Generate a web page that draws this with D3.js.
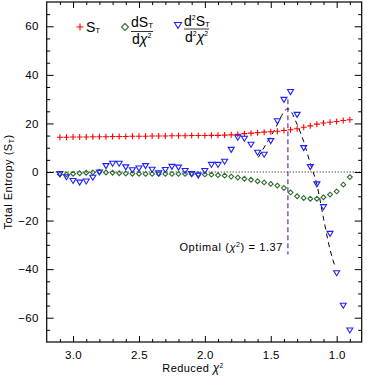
<!DOCTYPE html>
<html>
<head>
<meta charset="utf-8">
<script src="https://cdn.jsdelivr.net/npm/d3@7"></script>
<style>
body { margin: 0; background: #fff; }
text { font-family: "Liberation Sans", Arial, sans-serif; fill: #000; }
</style>
</head>
<body>
<div id="chart"></div>
<script>
// reduced chi^2 grid (x)
var chi2 = [3.10, 3.05, 3.00, 2.95, 2.90, 2.85, 2.80, 2.75, 2.70, 2.65, 2.60, 2.55, 2.50, 2.45, 2.40,
  2.35, 2.30, 2.25, 2.20, 2.15, 2.10, 2.05, 2.00, 1.95, 1.90, 1.85, 1.80, 1.75, 1.70, 1.65,
  1.60, 1.55, 1.50, 1.45, 1.40, 1.35, 1.30, 1.25, 1.20, 1.15, 1.10, 1.05, 1.00, 0.95, 0.90];

// S_T
var entropy = [14.3, 14.3, 14.4, 14.4, 14.4, 14.5, 14.5, 14.5, 14.6, 14.6, 14.6, 14.7, 14.7, 14.7, 14.8,
  14.8, 14.8, 14.9, 14.9, 14.9, 15.0, 15.0, 15.0, 15.1, 15.1, 15.2, 15.3, 15.5, 15.8, 16.0,
  16.2, 16.4, 16.6, 16.8, 17.1, 17.4, 17.8, 18.4, 19.0, 19.7, 20.2, 20.5, 20.8, 21.2, 21.5];

// dS_T / dchi^2
var dEntropy = [-1.0, -1.0, -0.7, -0.5, -0.3, -0.2, 0.1, -0.2, -0.3, -0.5, -0.6, -0.7, -0.7, -0.8, -0.8,
  -0.8, -0.8, -0.8, -0.8, -0.8, -0.9, -0.9, -1.0, -1.1, -1.3, -1.5, -1.9, -2.3, -2.8, -3.2,
  -3.8, -4.3, -4.9, -5.6, -6.6, -8.4, -10.0, -10.7, -11.0, -11.0, -10.4, -9.3, -8.0, -5.2, -2.1];

// d2S_T / d2chi^2
var d2Entropy = [-0.8, -2.1, -3.6, -4.3, -3.8, -2.3, -0.1, 2.5, 3.5, 3.5, 2.0, 0.8, 1.5, 2.5, 1.0,
  -0.5, 0.9, 2.2, 1.9, 0.5, -0.8, -1.4, 0.5, 3.0, 3.0, 4.3, 9.2, 14.2, 13.8, 11.3,
  8.0, 7.2, 12.8, 21.0, 29.8, 33.0, 23.6, 9.9, 2.1, -5.0, -14.4, -25.4, -41.6, -55.0, -65.2];

// dashed fit around the peak
var fitX = [1.595, 1.48, 1.37, 1.30, 1.25, 1.20, 1.15, 1.10, 1.05, 1.015];
var fitY = [6.0, 16.5, 26.0, 19.6, 12.5, 3.5, -5.2, -19.0, -32.0, -38.5];

var optimalChi2 = 1.37;
var optimalSpan = [30, -34];

var xTicks = [3.0, 2.5, 2.0, 1.5, 1.0];
var yTicks = [-60, -40, -20, 0, 20, 40, 60];

var svgWidth = 367, svgHeight = 379;
var plotLeft = 46.7, plotRight = 361.7, plotTop = 2, plotBottom = 342;

var svg = d3.select("#chart").append("svg")
  .attr("width", svgWidth)
  .attr("height", svgHeight);

var x = d3.scaleLinear().domain([3.2, 0.81]).range([plotLeft, plotRight]);
var y = d3.scaleLinear().domain([-70, 70]).range([plotBottom, plotTop]);

var xMinor = d3.range(0.9, 3.2, 0.1).filter(function(v) { return Math.abs(v * 2 - Math.round(v * 2)) > 0.01; });
var yMinor = d3.range(-65, 70, 5).filter(function(v) { return v % 20 !== 0; });

function addAxis(axis, tx, ty, noLabels) {
  var g = svg.append("g").attr("transform", "translate(" + tx + "," + ty + ")").call(axis);
  g.select(".domain").remove();
  g.selectAll("line").attr("stroke", "#000");
  g.selectAll("text").style("font-size", "11.5px").style("letter-spacing", "0.3px").attr("fill", "#000");
  if (noLabels) g.selectAll("text").remove();
  return g;
}

// bottom / top
addAxis(d3.axisBottom(x).tickValues(xTicks).tickSize(-6).tickPadding(9).tickFormat(d3.format(".1f")), 0, plotBottom);
addAxis(d3.axisBottom(x).tickValues(xMinor).tickSize(-3).tickFormat(""), 0, plotBottom, true);
addAxis(d3.axisTop(x).tickValues(xTicks).tickSize(-6).tickFormat(""), 0, plotTop, true);
addAxis(d3.axisTop(x).tickValues(xMinor).tickSize(-3).tickFormat(""), 0, plotTop, true);
// left / right
addAxis(d3.axisLeft(y).tickValues(yTicks).tickSize(-7).tickPadding(8).tickFormat(function(d) { return d < 0 ? "\u2212" + Math.abs(d) : d; }), plotLeft, 0);
addAxis(d3.axisLeft(y).tickValues(yMinor).tickSize(-3.5).tickFormat(""), plotLeft, 0, true);
addAxis(d3.axisRight(y).tickValues(yTicks).tickSize(-7).tickFormat(""), plotRight, 0, true);
addAxis(d3.axisRight(y).tickValues(yMinor).tickSize(-3.5).tickFormat(""), plotRight, 0, true);

// frame
svg.append("rect")
  .attr("x", plotLeft).attr("y", plotTop)
  .attr("width", plotRight - plotLeft).attr("height", plotBottom - plotTop)
  .attr("fill", "none").attr("stroke", "#000").attr("stroke-width", 1.2);

// zero line
svg.append("line")
  .attr("x1", plotLeft).attr("x2", plotRight)
  .attr("y1", y(0)).attr("y2", y(0))
  .attr("stroke", "#000").attr("stroke-dasharray", "1,2");

// optimal vertical line
svg.append("line")
  .attr("x1", x(optimalChi2)).attr("x2", x(optimalChi2))
  .attr("y1", y(optimalSpan[0])).attr("y2", y(optimalSpan[1]))
  .attr("stroke", "#7030a0").attr("stroke-width", 1.2).attr("stroke-dasharray", "5,3");

// dashed fit
var fitData = fitX.map(function(v, i) { return [v, fitY[i]]; });
svg.append("path")
  .datum(fitData)
  .attr("d", d3.line().x(function(d) { return x(d[0]); }).y(function(d) { return y(d[1]); }).curve(d3.curveMonotoneX))
  .attr("fill", "none").attr("stroke", "#000").attr("stroke-width", 1).attr("stroke-dasharray", "5,4");

// S_T plus marks
svg.append("g").selectAll("path")
  .data(chi2)
  .enter().append("path")
  .attr("d", function(d, i) {
    var cx = x(d), cy = y(entropy[i]);
    return "M" + (cx - 3) + "," + cy + "h6M" + cx + "," + (cy - 3) + "v6";
  })
  .attr("stroke", "#ff0000").attr("stroke-width", 1.1).attr("fill", "none");

// dS diamonds
svg.append("g").selectAll("path")
  .data(chi2)
  .enter().append("path")
  .attr("d", function(d, i) {
    var cx = x(d), cy = y(dEntropy[i]), r = 2.4;
    return "M" + cx + "," + (cy - r) + "L" + (cx + r) + "," + cy + "L" + cx + "," + (cy + r) + "L" + (cx - r) + "," + cy + "Z";
  })
  .attr("stroke", "#2f6b2f").attr("stroke-width", 1.1).attr("fill", "none");

// d2S triangles
svg.append("g").selectAll("path")
  .data(chi2)
  .enter().append("path")
  .attr("d", function(d, i) {
    var cx = x(d), cy = y(d2Entropy[i]);
    return "M" + (cx - 3) + "," + (cy - 2.3) + "L" + (cx + 3) + "," + (cy - 2.3) + "L" + cx + "," + (cy + 2.7) + "Z";
  })
  .attr("stroke", "#1f1fff").attr("stroke-width", 1.1).attr("fill", "none");

// optimal label
svg.append("text")
  .attr("x", 283).attr("y", 250.5)
  .attr("text-anchor", "end")
  .style("font-size", "11px")
  .style("letter-spacing", "0.6px")
  .html('Optimal  (<tspan font-style="italic">\u03c7</tspan><tspan dy="-4" font-size="7px">2</tspan><tspan dy="4">)  =  1.37</tspan>');

// axis titles
svg.append("text")
  .attr("x", 193).attr("y", 372)
  .attr("text-anchor", "middle")
  .style("font-size", "11px")
  .style("letter-spacing", "0.4px")
  .html('Reduced  <tspan font-style="italic" font-size="12px">\u03c7</tspan><tspan dy="-4" font-size="6.5px">2</tspan>');

svg.append("text")
  .attr("transform", "translate(11.5,182) rotate(-90)")
  .attr("text-anchor", "middle")
  .style("font-size", "11px")
  .style("letter-spacing", "0.5px")
  .html('Total Entropy (S<tspan dy="2" font-size="7px">T</tspan><tspan dy="-2">)</tspan>');

// legend
var lg = svg.append("g");
lg.append("path")
  .attr("d", "M76.5,27h7M80,23.5v7")
  .attr("stroke", "#ff0000").attr("stroke-width", 1.1);
lg.append("text").attr("x", 86).attr("y", 32).style("font-size", "14px")
  .html('S<tspan dy="1" font-size="8px">T</tspan>');

lg.append("path")
  .attr("d", "M125,23.5L128.5,27L125,30.5L121.5,27Z")
  .attr("stroke", "#2f6b2f").attr("stroke-width", 1.1).attr("fill", "none");
lg.append("text").attr("x", 131).attr("y", 27).style("font-size", "14px")
  .html('dS<tspan dy="1" font-size="8px">T</tspan>');
lg.append("line").attr("x1", 131).attr("x2", 153).attr("y1", 31.5).attr("y2", 31.5)
  .attr("stroke", "#000").attr("stroke-width", 0.8);
lg.append("text").attr("x", 132).attr("y", 44).style("font-size", "14px")
  .html('d<tspan font-style="italic">\u03c7</tspan><tspan dy="-6" font-size="7px">2</tspan>');

lg.append("path")
  .attr("d", "M174.5,22.5L181.5,22.5L178,28.5Z")
  .attr("stroke", "#1f1fff").attr("stroke-width", 1.1).attr("fill", "none");
lg.append("text").attr("x", 184).attr("y", 25.5).style("font-size", "14px")
  .html('d<tspan dy="-6" font-size="7px">2</tspan><tspan dy="6">S</tspan><tspan dy="1" font-size="8px">T</tspan>');
lg.append("line").attr("x1", 184).attr("x2", 209).attr("y1", 29).attr("y2", 29)
  .attr("stroke", "#000").attr("stroke-width", 0.8);
lg.append("text").attr("x", 185).attr("y", 42).style("font-size", "14px")
  .html('d<tspan dy="-6" font-size="7px">2</tspan><tspan dy="6" font-style="italic">\u03c7</tspan><tspan dy="-6" font-size="7px">2</tspan>');
</script>
</body>
</html>
